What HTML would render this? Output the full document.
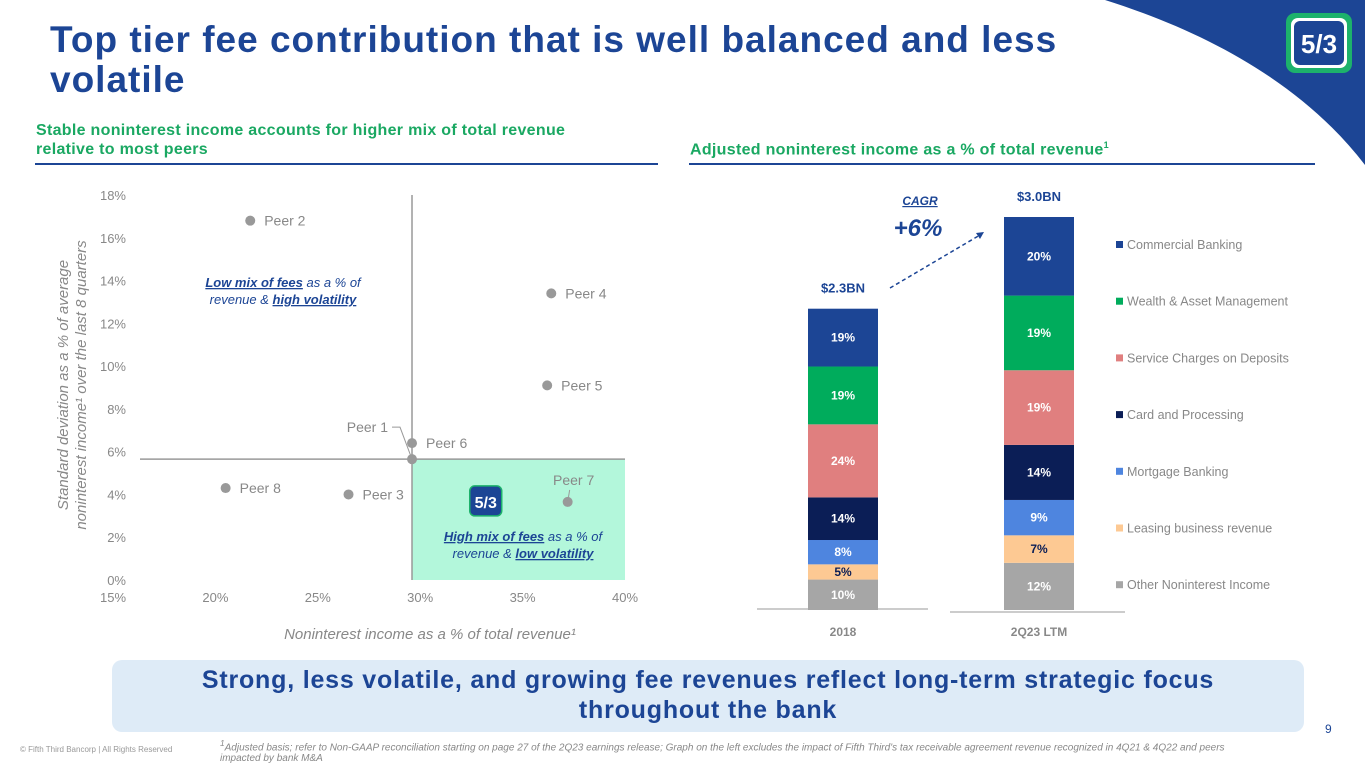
<!DOCTYPE html>
<html><head><meta charset="utf-8"><style>
body{margin:0;width:1365px;height:768px;overflow:hidden;background:#fff;font-family:"Liberation Sans",sans-serif;position:relative}
.abs{position:absolute}
</style></head><body>
<svg class="abs" style="left:0;top:0" width="1365" height="768">
<path d="M1105,0 C1200,30 1300,80 1365,165 L1365,0 Z" fill="#1c4595"/>
<rect x="1286" y="13" width="66" height="60" rx="9" fill="#1db26b"/>
<rect x="1291" y="18" width="56" height="50" rx="7" fill="#fff"/>
<rect x="1294" y="21" width="50" height="44" rx="6" fill="#1c4595"/>
<text x="1319" y="53" fill="#fff" font-size="26" font-weight="bold" text-anchor="middle" font-family="Liberation Sans">5/3</text>
</svg>
<div class="abs" style="left:50px;top:20px;width:1150px;font-size:37px;font-weight:bold;color:#1c4595;line-height:40px;letter-spacing:1px">Top tier fee contribution that is well balanced and less volatile</div>
<div class="abs" style="left:36px;top:121px;width:575px;font-size:16px;font-weight:bold;color:#1aa862;line-height:19px;letter-spacing:.3px">Stable noninterest income accounts for higher mix of total revenue relative to most peers</div>
<div class="abs" style="left:35px;top:163px;width:623px;height:2px;background:#1c4595"></div>
<div class="abs" style="left:690px;top:140px;font-size:16px;font-weight:bold;color:#1aa862;letter-spacing:.3px">Adjusted noninterest income as a % of total revenue<sup style="font-size:9px">1</sup></div>
<div class="abs" style="left:689px;top:163px;width:626px;height:2px;background:#1c4595"></div>

<svg id="scatter" class="abs" style="left:0;top:170px" width="680" height="480"></svg>
<svg id="bars" class="abs" style="left:740px;top:170px" width="625" height="480"></svg>

<div class="abs" style="left:112px;top:660px;width:1192px;height:72px;background:#deebf7;border-radius:10px;color:#1c4595;font-weight:bold;font-size:25px;text-align:center;line-height:30px;padding-top:5px;box-sizing:border-box;letter-spacing:.8px">Strong, less volatile, and growing fee revenues reflect long-term strategic focus<br>throughout the bank</div>
<div class="abs" style="left:20px;top:745px;font-size:8px;color:#999">© Fifth Third Bancorp | All Rights Reserved</div>
<div class="abs" style="left:220px;top:738px;width:1040px;font-size:10px;font-style:italic;color:#888;line-height:11px"><sup>1</sup>Adjusted basis; refer to Non-GAAP reconciliation starting on page 27 of the 2Q23 earnings release; Graph on the left excludes the impact of Fifth Third's tax receivable agreement revenue recognized in 4Q21 &amp; 4Q22 and peers impacted by bank M&amp;A</div>
<div class="abs" style="left:1325px;top:722px;font-size:12px;color:#1c4595">9</div>

<script>
const NS="http://www.w3.org/2000/svg";
function mk(p,t,a,txt){const e=document.createElementNS(NS,t);for(const k in a)e.setAttribute(k,a[k]);if(txt!=null)e.textContent=txt;p.appendChild(e);return e;}
// scatter data
const peerNames=["Peer 1","Peer 2","Peer 3","Peer 4","Peer 5","Peer 6","Peer 7","Peer 8"];
const peerX=[29.6,21.7,26.5,36.4,36.2,29.6,37.2,20.5];
const peerY=[5.65,16.8,4.0,13.4,9.1,6.4,3.65,4.3];
const fitbX=[33.2];const fitbY=[3.65];
const xTicks=[15,20,25,30,35,40];
const yTicks=[0,2,4,6,8,10,12,14,16,18];
const sc=document.getElementById("scatter");
const oy=170;
const X=v=>113+(v-15)/25*512;
const Y=v=>580-oy-v*(385/18);
let r;
r=mk(sc,"rect",{x:X(29.6),y:Y(5.65),width:X(40)-X(29.6),height:Y(0)-Y(5.65),fill:"#b3f7db"});


mk(sc,"line",{x1:X(29.6),y1:Y(18),x2:X(29.6),y2:Y(0),stroke:"#999","stroke-width":1.5});
mk(sc,"line",{x1:140,y1:Y(5.65),x2:X(40),y2:Y(5.65),stroke:"#999","stroke-width":1.5});
xTicks.forEach(t=>{const e=mk(sc,"text",{x:X(t),y:Y(0)+22,"font-size":13,fill:"#888","text-anchor":"middle"},t+"%");

});
yTicks.forEach(t=>{const e=mk(sc,"text",{x:126,y:Y(t)+5,"font-size":13,fill:"#888","text-anchor":"end"},t+"%");

});
peerNames.forEach((n,i)=>{
 const c=mk(sc,"circle",{cx:X(peerX[i]),cy:Y(peerY[i]),r:5,fill:"#999"});
 
 
 let tx=X(peerX[i])+14,ty=Y(peerY[i])+5,anc="start";
 if(n==="Peer 1"){tx=X(peerX[i])-24;ty=Y(peerY[i])-27;anc="end";mk(sc,"path",{d:`M${tx+4},${ty-5} L${tx+12},${ty-5} L${X(peerX[i])},${Y(peerY[i])}`,fill:"none",stroke:"#999"});}
 if(n==="Peer 7"){tx=X(peerX[i])+6;ty=Y(peerY[i])-17;anc="middle";mk(sc,"line",{x1:X(peerX[i])+2,y1:ty+5,x2:X(peerX[i]),y2:Y(peerY[i]),stroke:"#999"});}
 const l=mk(sc,"text",{x:tx,y:ty,"font-size":14,fill:"#888","text-anchor":anc},n);
 
 
});
const g=mk(sc,"g",{});


mk(g,"rect",{x:X(fitbX[0])-16,y:Y(fitbY[0])-16,width:32,height:30,rx:5,fill:"#1c4595",stroke:"#1db26b","stroke-width":1.5});
mk(g,"text",{x:X(fitbX[0]),y:Y(fitbY[0])+6,"font-size":16,"font-weight":"bold",fill:"#fff","text-anchor":"middle"},"5/3");
function note(x,y,lines,name){const t=mk(sc,"text",{x:x,y:y,"font-size":13,"font-style":"italic",fill:"#1c4595","text-anchor":"middle"});


lines.forEach((ln,i)=>{const ts=mk(t,"tspan",{x:x,dy:i?17:0});ln.forEach(s=>{mk(ts,"tspan",s[1]?{"font-weight":"bold","text-decoration":"underline"}:{},s[0]);});});}
note(283,117,[[["Low mix of fees",1],[" as a % of",0]],[["revenue & ",0],["high volatility",1]]],"low-mix-annotation");
note(523,371,[[["High mix of fees",1],[" as a % of",0]],[["revenue & ",0],["low volatility",1]]],"high-mix-annotation");
let ya=mk(sc,"text",{transform:"rotate(-90)",x:-215,y:68,"font-size":15,"font-style":"italic",fill:"#888","text-anchor":"middle"});


mk(ya,"tspan",{x:-215,dy:0},"Standard deviation as a % of average");
mk(ya,"tspan",{x:-215,dy:18},"noninterest income¹ over the last 8 quarters");
let xa=mk(sc,"text",{x:430,y:469,"font-size":15,"font-style":"italic",fill:"#888","text-anchor":"middle"},"Noninterest income as a % of total revenue¹");



// bar data
const barCats=["2018","2Q23 LTM"];
const barTotals=[2.3,3.0];
const totalLabels=["$2.3BN","$3.0BN"];
const seriesNames=["Other Noninterest Income","Leasing business revenue","Mortgage Banking","Card and Processing","Service Charges on Deposits","Wealth & Asset Management","Commercial Banking"];
const seriesColors=["#a6a6a6","#fdc993","#4e85df","#0b1e56","#e07f7f","#00ac5c","#1c4595"];
const share2018=[10,5,8,14,24,19,19];
const share2Q23=[12,7,9,14,19,19,20];
const shares=[share2018,share2Q23];
const bs=document.getElementById("bars");
const bx=[68,264],bw=70,base=440,pxPerBn=131;
mk(bs,"line",{x1:17,y1:439,x2:188,y2:439,stroke:"#bbb","stroke-width":1.5});
mk(bs,"line",{x1:210,y1:442,x2:385,y2:442,stroke:"#bbb","stroke-width":1.5});
barCats.forEach((c,i)=>{
 const H=barTotals[i]*pxPerBn;const sum=shares[i].reduce((a,b)=>a+b,0);let y=base;
 shares[i].forEach((s,j)=>{const h=s/sum*H;y-=h;
  const rc=mk(bs,"rect",{x:bx[i],y:y,width:bw,height:h,fill:seriesColors[j]});
  
  
  const lt=mk(bs,"text",{x:bx[i]+bw/2,y:y+h/2+4,"font-size":12,"font-weight":"bold",fill:j==1?"#0b1e56":"#fff","text-anchor":"middle"},s+"%");
  
  
 });
 const tl=mk(bs,"text",{x:bx[i]+bw/2,y:base-H-16,"font-size":13,"font-weight":"bold",fill:"#1c4595","text-anchor":"middle"},totalLabels[i]);
 
 
 const cl=mk(bs,"text",{x:bx[i]+bw/2,y:466,"font-size":12,"font-weight":"bold",fill:"#888","text-anchor":"middle"},c);
 
 
});
mk(bs,"path",{d:"M150,118 L240,65",stroke:"#1c4595","stroke-width":1.5,"stroke-dasharray":"4,3",fill:"none"});
mk(bs,"path",{d:"M244,62 L236,63 L240,69 Z",fill:"#1c4595"});
let cg=mk(bs,"text",{x:180,y:35,"font-size":12,"font-weight":"bold","font-style":"italic",fill:"#1c4595","text-anchor":"middle","text-decoration":"underline"},"CAGR");


let cv=mk(bs,"text",{x:178,y:66,"font-size":24,"font-weight":"bold","font-style":"italic",fill:"#1c4595","text-anchor":"middle"},"+6%");


const legendOrder=[6,5,4,3,2,1,0];
legendOrder.forEach((j,k)=>{const y=75+k*56.7;
 const ls=mk(bs,"rect",{x:376,y:y-4,width:7,height:7,fill:seriesColors[j]});
 
 
 const lt=mk(bs,"text",{x:387,y:y+4,"font-size":12.5,fill:"#888"},seriesNames[j]);
 
 
});
</script>
</body></html>
